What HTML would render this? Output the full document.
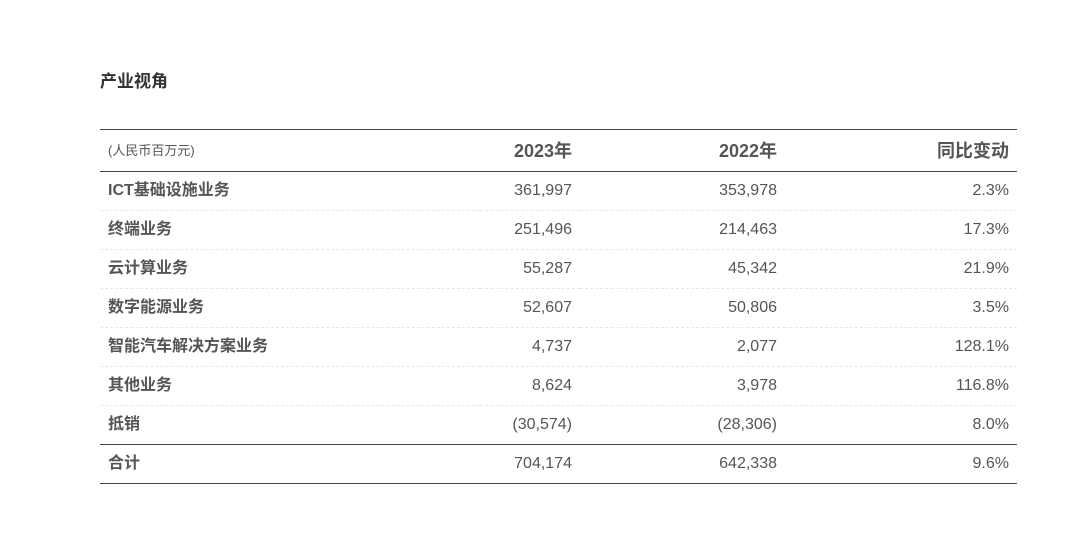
<!DOCTYPE html>
<html><head><meta charset="utf-8"><style>
body{margin:0;width:1067px;height:546px;background:#fff;font-family:"Liberation Sans","Noto Sans CJK SC",sans-serif;color:#555;position:relative;overflow:hidden}
.title{position:absolute;left:100px;top:70px;font-size:17px;line-height:24px;font-weight:bold;color:#333}
table{position:absolute;left:100px;top:129px;width:917px;border-collapse:collapse}
td{height:38px;padding:0 8px;font-size:16px;line-height:20px;vertical-align:middle;border-bottom:1px dashed #e6e6e6;white-space:nowrap}
td span{display:inline-block;height:20px;line-height:20px;vertical-align:middle}
tr.h td{height:41px;border-top:1px solid #444;border-bottom:1px solid #444;font-size:18px;font-weight:bold}
tr.h td.u{font-size:13px;font-weight:normal}
td.l{font-weight:bold;text-align:left}
td.n{text-align:right}
tr.s td{border-bottom:1px solid #444}
tr.t td{border-bottom:1px solid #444}
</style></head><body>
<div class="title">产业视角</div>
<table>
<colgroup><col style="width:380px"><col style="width:100px"><col style="width:205px"><col style="width:232px"></colgroup>
<tr class="h"><td class="u"><span>(人民币百万元)</span></td><td class="n"><span>2023年</span></td><td class="n"><span>2022年</span></td><td class="n"><span>同比变动</span></td></tr>
<tr><td class="l"><span>ICT基础设施业务</span></td><td class="n"><span>361,997</span></td><td class="n"><span>353,978</span></td><td class="n"><span>2.3%</span></td></tr>
<tr><td class="l"><span>终端业务</span></td><td class="n"><span>251,496</span></td><td class="n"><span>214,463</span></td><td class="n"><span>17.3%</span></td></tr>
<tr><td class="l"><span>云计算业务</span></td><td class="n"><span>55,287</span></td><td class="n"><span>45,342</span></td><td class="n"><span>21.9%</span></td></tr>
<tr><td class="l"><span>数字能源业务</span></td><td class="n"><span>52,607</span></td><td class="n"><span>50,806</span></td><td class="n"><span>3.5%</span></td></tr>
<tr><td class="l"><span>智能汽车解决方案业务</span></td><td class="n"><span>4,737</span></td><td class="n"><span>2,077</span></td><td class="n"><span>128.1%</span></td></tr>
<tr><td class="l"><span>其他业务</span></td><td class="n"><span>8,624</span></td><td class="n"><span>3,978</span></td><td class="n"><span>116.8%</span></td></tr>
<tr class="s"><td class="l"><span>抵销</span></td><td class="n"><span>(30,574)</span></td><td class="n"><span>(28,306)</span></td><td class="n"><span>8.0%</span></td></tr>
<tr class="t"><td class="l"><span>合计</span></td><td class="n"><span>704,174</span></td><td class="n"><span>642,338</span></td><td class="n"><span>9.6%</span></td></tr>
</table>
</body></html>
